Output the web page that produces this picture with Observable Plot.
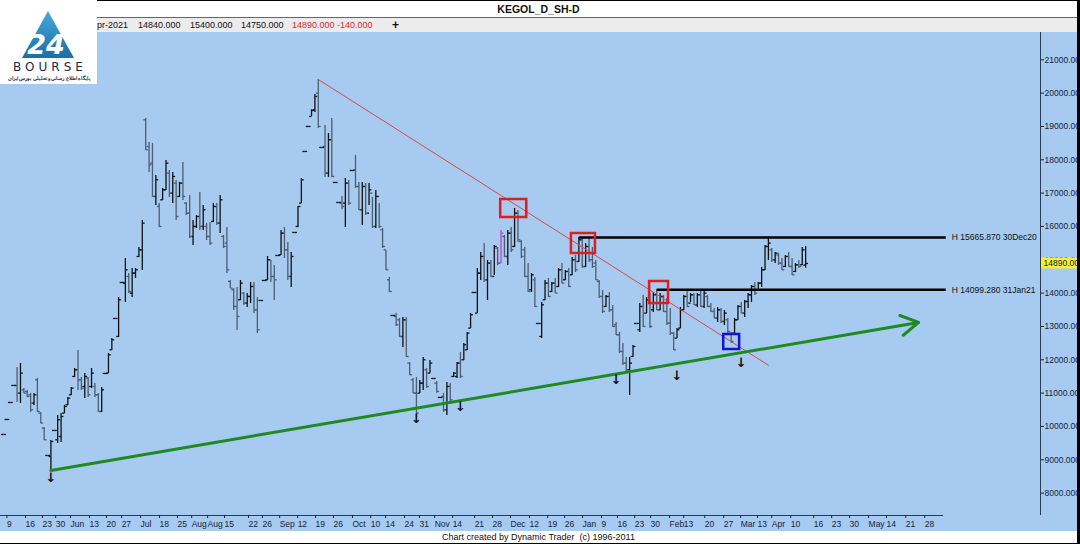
<!DOCTYPE html>
<html><head><meta charset="utf-8">
<script src="https://cdn.jsdelivr.net/npm/d3@7"></script>
<script src="https://cdn.jsdelivr.net/npm/@observablehq/plot@0.6"></script>
<style>
body{margin:0;background:#fff;width:1080px;height:544px;overflow:hidden;font-family:"Liberation Sans",Arial,sans-serif;}
#wrap{position:relative;width:1080px;height:544px;}
#titlebar{position:absolute;left:0;top:0;width:1077px;height:16px;border-top:1px solid #000;border-bottom:1px solid #666;background:#fff;text-align:center;font-weight:bold;font-size:10.5px;line-height:16px;color:#111;}
#infobar{position:absolute;left:0;top:18px;width:1077px;height:14px;background:#ececec;font-size:9px;line-height:14px;color:#111;}
#infobar span{position:absolute;top:0;white-space:nowrap;}
#chart{position:absolute;left:0;top:32px;}
#footer{position:absolute;left:0;top:531px;width:1077px;height:12px;background:#fff;border-bottom:1px solid #000;text-align:center;font-size:9px;line-height:12px;color:#111;}
#rborder{position:absolute;left:1077px;top:0;width:3px;height:544px;background:#000;}
#logo{position:absolute;left:0;top:0;}
</style></head>
<body><div id="wrap">
<div id="titlebar">KEGOL_D_SH-D</div>
<div id="infobar">
<span style="left:97px">pr-2021</span>
<span style="left:138px">14840.000</span>
<span style="left:190px">15400.000</span>
<span style="left:241px">14750.000</span>
<span style="left:292px;color:#e02828">14890.000</span>
<span style="left:337px;color:#e02828">-140.000</span>
<span style="left:392px;font-weight:bold;font-size:12px">+</span>
</div>
<div id="chart"></div>
<div id="footer">Chart created by Dynamic Trader&nbsp; (c) 1996-2011</div>
<div id="rborder"></div>
<svg id="logo" width="97" height="84" viewBox="0 0 97 84">
<rect width="97" height="84" fill="#fff"/>
<defs><linearGradient id="lg" x1="0" y1="0" x2="0" y2="1"><stop offset="0" stop-color="#45a8dc"/><stop offset="1" stop-color="#1b6fa6"/></linearGradient></defs>
<polygon points="48,11 74,58 22,58" fill="url(#lg)"/>
<text x="46" y="54" font-size="27" font-weight="bold" font-style="italic" fill="#fff" text-anchor="middle" font-family="DejaVu Sans">24</text>
<text x="50" y="71" font-size="12" letter-spacing="4" text-anchor="middle" fill="#1d2a44" font-family="DejaVu Sans">BOURSE</text>
<text x="49" y="80" font-size="5.2" font-weight="bold" text-anchor="middle" fill="#1d2a44" font-family="Noto Sans">پایگاه اطلاع رسانی و تحلیلی بورس ایران</text>
</svg>
</div>
<script>
// ---- OHLC data (daily bars, oldest first) ----
const highs = [
9760,10210,10720,11230,11770,11890,11140,11080,10990,10990,
11440,10420,9970,9130,9580,9880,10330,10390,10630,10870,
11170,11740,12280,11470,11590,11470,11740,11290,10990,11170,
11590,12190,12640,13240,13870,14320,15040,14590,14740,14740,
15370,16180,19240,18520,18490,17530,16690,17140,17980,17680,
17620,17380,17320,17920,16720,16930,16180,16330,17020,16630,
16090,16120,16690,16690,16930,15730,15970,14380,14140,14170,
14380,14020,13990,14320,14320,13870,13780,14380,15100,14980,
14830,15130,15880,15970,15520,15220,15820,16600,17440,18250,
19000,19500,19960,20410,18370,19030,18790,19240,17320,16720,16900,
17440,17380,17680,18130,17320,17320,17290,17290,16870,17080,16690,15940,15280,14470,13330,13400,
13240,13270,13270,11920,11440,11470,11380,12070,11740,11980,11440,11350,
10870,10990,11320,11290,11620,11920,12220,12490,12820,13390,14020,14740,15220,15490,14980,
14980,15430,15370,15880,15730,15880,15970,16540,16480,15580,15370,14890,
14590,14470,13090,13720,14380,14440,14320,14440,14740,14890,14680,14740,15070,15130,15666,15640,15490,15640,15370,14980,14380,14080,13930,14020,13630,13120,12820,12490,12070,12070,12430,13090,13690,13930,13870,13990,14020,14099,13990,13930,13840,13540,12820,12940,13570,13930,14080,
13990,13990,13990,14080,14080,13930,13690,13540,13570,13540,13480,13240,12820,13240,13630,13720,13780,13990,14230,14320,14320,14770,15430,15640,15340,15220,15190,15040,15130,15220,15040,
14890,14980,15370,15400];
const lows = [
9760,10210,10720,11230,10720,10690,10990,10870,10420,10630,
10420,10090,9580,9130,8680,9880,9490,9520,10390,10630,
10930,11470,11080,11080,10840,10870,11140,10870,10420,10420,
11590,11590,12280,13240,12670,14320,13720,13990,13870,14440,
15070,14680,18280,17620,16870,16630,15970,16780,17080,16870,
16690,16180,16870,16780,16330,15640,15430,15940,15880,15880,
15580,15430,16120,16030,15790,15340,14590,14140,13480,12880,
13780,13630,13570,13690,13390,12790,13780,14380,14380,14320,
13780,15130,15130,15040,14380,14170,15820,15970,16690,18250,
19000,19300,19420,18940,18370,17470,17470,17470,17320,16720,16500,
15970,16630,17680,17140,16480,16030,16330,16630,15940,15940,15940,15340,14680,14020,13330,13000,
12670,12370,12070,11530,10990,10270,10990,11080,11140,11590,11440,11000,
10870,10420,10330,10720,11470,11440,11440,11980,12280,12940,14020,13390,14380,14320,13780,
14470,14530,14830,14890,15070,14830,15220,15370,15520,15040,14470,14020,
14020,13570,13090,12640,13780,13870,14020,13990,14170,14290,14380,14170,14530,14620,14920,14740,14770,14920,14740,14380,13840,13390,13570,13420,12970,12730,12190,11830,11590,10930,12070,13090,12820,12970,13390,12940,13420,13480,13480,13420,13030,12730,12280,12640,12940,13480,13570,
13720,13630,13570,13570,13540,13570,13420,13240,13120,13090,13030,12790,12490,12790,13180,13390,13270,13540,13720,13930,14080,14170,14680,14980,14920,14890,14830,14680,14770,14770,14530,
14620,14740,14830,14750];
const opens = [
9760,10210,10720,11230,11230,11000,11100,11050,10950,10700,
11400,10400,9950,9130,9100,9880,9600,9700,10400,10650,
10950,11500,11700,11400,11200,11450,11200,11200,10950,10450,
11590,11600,12300,13240,12700,14320,14300,14500,14000,14600,
15100,15300,19200,18400,17900,16900,16600,16800,17100,17600,
17000,17300,16900,17300,16700,16400,15700,16000,16300,16000,
16000,15700,16150,16600,16100,15700,15500,14350,14100,13600,
13800,14000,13700,13900,14200,13500,13780,14380,14400,15000,
14500,15130,15150,15800,15300,14500,15820,16000,16700,18250,
19000,19300,19500,20000,18370,18400,17600,18600,17320,16720,16700,
16700,17300,17680,17700,17200,16500,17200,16400,17000,16000,16900,15900,15300,14400,13330,13300,
13200,12700,13200,11900,11400,11000,11000,11300,11700,11600,11440,11300,
10870,10900,10500,11200,11500,11500,11900,12000,12300,12950,14020,13400,14600,15100,14400,
14900,14500,15350,14900,15700,15100,15800,15400,16400,15550,15300,14500,
14100,14400,13090,12700,13800,14300,14050,14300,14200,14700,14400,14650,14550,15000,14950,15600,14800,15400,15000,14900,14350,13900,13600,13900,13500,13050,12750,12250,11900,11700,12100,13090,12900,13600,13400,13800,13500,13950,13500,13900,13450,13100,12800,12650,12950,13500,13900,
13700,13950,13650,13950,13600,13900,13600,13450,13250,13500,13150,13200,12800,12800,13200,13600,13400,13750,13950,14200,14100,14300,14700,15400,15300,15000,15150,14900,14800,15100,14800,
14650,14850,14850,14840];
const closes = [
9760,10210,10720,11230,11000,11600,11000,10900,10500,10950,
10450,10100,9600,9130,9550,9880,10200,10300,10600,10850,
11150,11700,11400,11150,11500,10950,11600,10950,10450,11100,
11590,12150,12600,13240,13800,14320,14700,14050,14600,14700,
15300,16100,18300,17850,16900,17400,16000,17100,17900,17000,
17500,16300,17300,16900,16400,15700,16000,16300,16000,16500,
15700,15500,16600,16100,16800,15400,14700,14150,13600,13300,
14300,13700,13900,14200,13500,12900,13780,14380,15000,14500,
14400,15130,15800,15300,14500,15100,15820,16600,17400,18250,
19000,19480,19900,19000,18370,17600,18600,17500,17320,16720,16600,
17300,16700,17680,17200,16500,17200,16400,17100,16000,16900,16000,15400,14700,14050,13330,13050,
12700,13200,12100,11550,11000,10400,11300,12000,11200,11900,11440,11050,
10870,10500,11200,10800,11600,11900,11500,12450,12800,13350,14020,14600,15100,14400,14900,
14500,15400,14900,15800,15100,15800,15300,16400,15600,15100,14500,14050,
14550,13600,13090,13650,14300,13900,14300,14000,14700,14300,14650,14200,15000,14700,15600,14800,15400,15000,14800,14400,13900,13450,13900,13500,13000,12750,12250,11900,11650,11900,12400,13090,13600,13000,13800,13000,13950,13500,13900,13450,13100,12800,12300,12900,13500,13900,13600,
13950,13650,13950,13600,14000,13600,13450,13250,13500,13150,13400,12850,12550,13200,13600,13400,13750,13950,14200,14000,14300,14700,15400,15500,15000,15200,14900,14700,15100,14800,14550,
14850,14800,15300,14890];
const highlightBar = 147;      // bar drawn in magenta

// ---- x axis (trading-day index) tick days and labels ----
const tickDays = [0.7,6.2,11.2,15.1,19.5,25.1,30.1,34.6,40.2,45.8,51.1,55.3,60.0,65.0,72.1,76.2,81.3,86.6,91.9,97.2,102.8,108.2,112.6,118.2,122.6,127.1,132.4,138.9,144.2,149.5,155.1,160.5,165.5,170.8,176.4,181.1,186.2,190.9,196.5,200.7,206.9,212.5,217.5,222.5,226.7,232.3,239.1,244.4,249.7,255.3,260.6,266.3,271.9];
const tickLabels = ["9","16","23","30","Jun","13","20","27","Jul","18","25","Aug","Aug","15","22","26","Sep","12","19","26","Oct","10","14","24","31","Nov","14","21","28","Dec","12","19","26","Jan","9","16","23","30","Feb","13","20","27","Mar","13","Apr","10","16","23","30","May","14","21","28"];
const xAxisEndDay = 277.8;
const yTicks = [8000,9000,10000,11000,12000,13000,14000,15000,16000,17000,18000,19000,20000,21000];
const lastClose = 14890;

// ---- annotations ----
const redTrend = {d1: 93, p1: 20410, d2: 226.1, p2: 11830};
const greenTrend = {d1: 14, p1: 8680, d2: 270.4, p2: 13120};
const levels = [
  {d1: 170, d2: 278.4, price: 15665.870, date: "30Dec20"},
  {d1: 193, d2: 278.4, price: 14099.280, date: "31Jan21"}
];
const redBoxes = [
  {d1: 146.9, d2: 154.6, p1: 16269, p2: 16809},
  {d1: 167.8, d2: 174.9, p1: 15189, p2: 15789},
  {d1: 190.9, d2: 196.5, p1: 13689, p2: 14349}
];
const blueBoxes = [{d1: 212.8, d2: 217.5, p1: 12309, p2: 12759}];
const arrowDays = [14, 122, 135, 181, 199, 218];
const arrowPrices = [8460, 10240, 10600, 11410, 11530, 11920];

const bars = highs.map((h, i) => ({i, high: h, low: lows[i], open: opens[i], close: closes[i]}));
const barColor = d => d.i === highlightBar ? "#d23ad8" : (d.close >= d.open ? "#111111" : "#4f5e70");
const labelByDay = new Map(tickDays.map((d, i) => [d, tickLabels[i]]));
const arrows = arrowDays.map((d, i) => ({d, p: arrowPrices[i]}));

const xDomain = [-0.9, 306.4];
const yDomain = [7329, 21819];
const fmt3 = d3.format(".3f");

const plot = Plot.plot({
  width: 1077, height: 499,
  marginLeft: 0, marginRight: 37, marginTop: 0, marginBottom: 16,
  style: {background: "#a6caf0", fontFamily: "'Liberation Sans', Arial, sans-serif", fontSize: "8.5px", color: "#17243a"},
  x: {domain: xDomain},
  y: {domain: yDomain},
  color: {type: "identity"},
  marks: [
    Plot.ruleX(bars, {x: "i", y1: "low", y2: "high", stroke: barColor, strokeWidth: 1.3}),
    Plot.link(bars, {x1: d => d.i - 0.7, x2: "i", y1: "open", y2: "open", stroke: barColor, strokeWidth: 1.3}),
    Plot.link(bars, {x1: "i", x2: d => d.i + 0.7, y1: "close", y2: "close", stroke: barColor, strokeWidth: 1.3}),
    Plot.link([redTrend], {x1: "d1", y1: "p1", x2: "d2", y2: "p2", stroke: "#dc4848", strokeWidth: 1}),
    Plot.arrow([greenTrend], {x1: "d1", y1: "p1", x2: "d2", y2: "p2", stroke: "#1f8a1f", strokeWidth: 3, headLength: 10, headAngle: 60}),
    Plot.link(levels, {x1: "d1", x2: "d2", y1: "price", y2: "price", stroke: "#000", strokeWidth: 2.5}),
    Plot.text(levels, {x: "d2", y: "price", text: d => `H ${d.price.toFixed(3)} ${d.date}`, textAnchor: "start", dx: 6, fill: "#111", fontSize: 8.5}),
    Plot.rect(redBoxes, {x1: "d1", x2: "d2", y1: "p1", y2: "p2", fill: "none", stroke: "#e01e1e", strokeWidth: 2.5}),
    Plot.rect(blueBoxes, {x1: "d1", x2: "d2", y1: "p1", y2: "p2", fill: "none", stroke: "#1414d8", strokeWidth: 2.5}),
    Plot.text(arrows, {x: "d", y: "p", text: () => "↓", fontSize: 13, fontWeight: "bold", fill: "#111", fontFamily: "DejaVu Sans"}),
    Plot.ruleX([xDomain[1]], {stroke: "#2a3a55", strokeWidth: 1}),
    Plot.ruleY([yDomain[0]], {x1: xDomain[0], x2: xAxisEndDay, stroke: "#2a3a55", strokeWidth: 1}),
    Plot.axisY(yTicks, {anchor: "right", tickSize: 3, tickPadding: 1, tickFormat: fmt3, label: null, fill: "#17243a"}),
    Plot.axisX(tickDays, {anchor: "bottom", tickSize: 3, tickPadding: 2, tickFormat: d => labelByDay.get(d), textAnchor: "start", dx: 1, label: null, fill: "#17243a"}),
    // last price highlighted on the price axis
    Plot.rect([lastClose], {x1: () => xDomain[1] + 0.3, x2: () => xDomain[1] + 11.2, y1: d => d - 165, y2: d => d + 165, fill: "#f5f032"}),
    Plot.text([lastClose], {x: () => xDomain[1], y: d => d, text: fmt3, textAnchor: "start", dx: 3, fill: "#17243a", fontSize: 8.5})
  ]
});
document.getElementById("chart").appendChild(plot);
</script>
</body></html>
